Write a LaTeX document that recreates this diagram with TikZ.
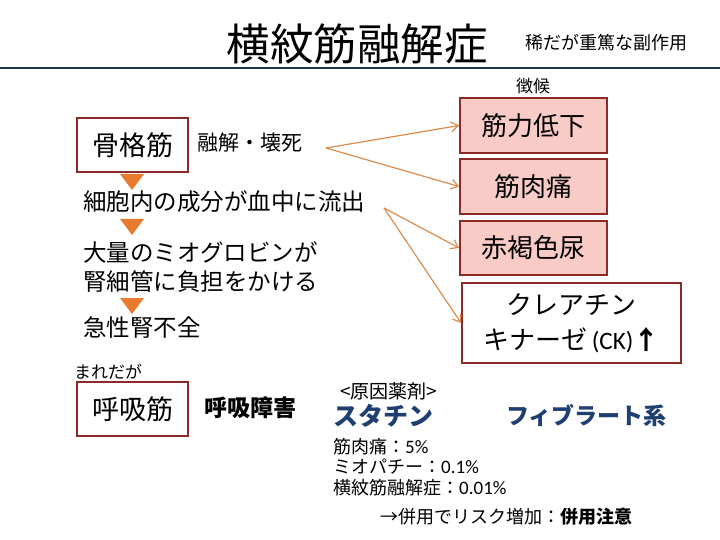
\documentclass[tikz,border=0pt]{standalone}
\usepackage{fontspec}
\setmainfont{Noto Sans CJK JP}
\newfontfamily\lat{Carlito}
\usetikzlibrary{arrows.meta}
\definecolor{navy}{HTML}{1F3550}
\definecolor{boxred}{HTML}{8C2A2A}
\definecolor{boxpink}{HTML}{F9CBC7}
\definecolor{triorange}{HTML}{E87B2E}
\definecolor{arrorange}{HTML}{D98C4E}
\definecolor{drugblue}{HTML}{1F3F70}
\tikzset{
  x=1pt, y=-1pt,
  fs/.style={font=\fontsize{#1}{#1}\selectfont},
  bfs/.style={font=\fontsize{#1}{#1}\selectfont\bfseries},
  txt/.style={inner sep=0pt, anchor=west},
  framebox/.style={draw=boxred, line width=1.8pt, inner sep=0pt, fill=white},
  pinkbox/.style={framebox, fill=boxpink, minimum width=147pt, minimum height=55pt, font=\fontsize{26}{26}\selectfont},
  flowarrow/.style={draw=arrorange, line width=1.2pt, -{Straight Barb[length=7pt,width=10pt,line width=1.2pt]}},
  tri/.style={fill=triorange}
}
\begin{document}
\begin{tikzpicture}
\useasboundingbox (0,0) rectangle (720,540);
% title
\node[inner sep=0pt, fs=43.5] (title) at (357,44) {横紋筋融解症};
\node[txt, fs=18] (sub) at (525,43) {稀だが重篤な副作用};
\draw[navy, line width=2pt] (0,68) -- (720,68);
\node[inner sep=0pt, fs=17] (sign) at (533,86) {徴候};
% right boxes
\node[pinkbox] (b1) at (533.5,125.5) {筋力低下};
\node[pinkbox] (b2) at (533.5,186.5) {筋肉痛};
\node[pinkbox, minimum height=54pt] (b3) at (533.5,248) {赤褐色尿};
\node[framebox, minimum width=219pt, minimum height=80pt, align=center, font=\fontsize{26}{35}\selectfont] (b4) at (571.5,323) {クレアチン\\キナーゼ{\lat\fontsize{25}{25}\selectfont\,(CK)}\textbf{↑}};
% left column
\node[framebox, minimum width=111pt, minimum height=54pt, fs=27] (sk) at (132.5,145) {骨格筋};
\node[txt, fs=21] (lysis) at (197,143) {融解・壊死};
\fill[tri] (120,174) -- (144,174) -- (132,190) -- cycle;
\node[txt, fs=23.5] (flow) at (83,202) {細胞内の成分が血中に流出};
\fill[tri] (120,219) -- (144,219) -- (132,235) -- cycle;
\node[txt, fs=23.5] (myo1) at (83,252) {大量のミオグロビンが};
\node[txt, fs=23.5] (myo2) at (83,282) {腎細管に負担をかける};
\fill[tri] (120,298) -- (144,298) -- (132,314) -- cycle;
\node[txt, fs=23.5] (aki) at (83,328) {急性腎不全};
% arrows
\coordinate (s1) at (326,148);
\coordinate (s2) at (384,208);
\draw[flowarrow] (s1) -- (b1.west);
\draw[flowarrow] (s1) -- (b2.west);
\draw[flowarrow] (s2) -- (b3.west);
\draw[flowarrow] (s2) -- (b4.west);
% bottom left
\node[txt, fs=17] (rare) at (74,372) {まれだが};
\node[framebox, minimum width=111pt, minimum height=54pt, fs=27] (resp) at (132.5,409) {呼吸筋};
\node[txt, bfs=23] (respdis) at (204,408) {呼吸障害};
% drugs
\node[txt, fs=19] (cause) at (340,391) {<原因薬剤>};
\node[txt, bfs=25, text=drugblue] (statin) at (333,416) {スタチン};
\node[txt, bfs=23, text=drugblue] (fib) at (506,416) {フィブラート系};
\node[txt, fs=18] (r1) at (333,447) {筋肉痛：{\lat\fontsize{19}{19}\selectfont 5\%}};
\node[txt, fs=18] (r2) at (333,467) {ミオパチー：{\lat\fontsize{19}{19}\selectfont 0.1\%}};
\node[txt, fs=18] (r3) at (333,488) {横紋筋融解症：{\lat\fontsize{19}{19}\selectfont 0.01\%}};
\node[txt, fs=18] (note) at (380,517) {→併用でリスク増加：\textbf{併用注意}};
\end{tikzpicture}
\end{document}
